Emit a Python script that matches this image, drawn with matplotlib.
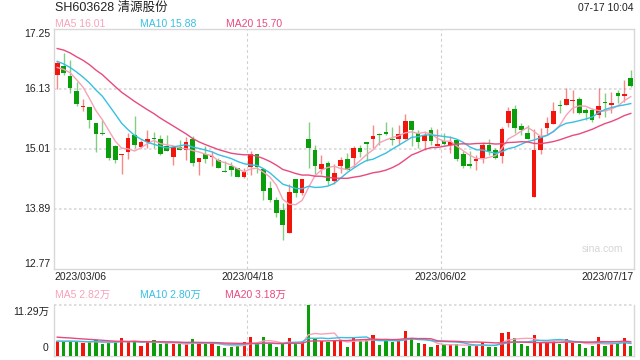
import numpy as np
import pandas as pd
import matplotlib
matplotlib.use('Agg')
import matplotlib.pyplot as plt

plt.rcParams['font.family'] = ['Liberation Sans', 'Noto Sans CJK SC']

# Header texts
stock_title = 'SH603628 清源股份'
stamp = '07-17 10:04'
date_labels = ['2023/03/06', '2023/04/18', '2023/06/02', '2023/07/17']
price_ticks = [12.77, 13.89, 15.01, 16.13, 17.25]

# Daily OHLC, 2023/03/06 .. 2023/07/17
opens = [16.40, 16.55, 16.37, 16.09, 15.79, 15.79, 15.49, 15.30, 15.22, 15.07,
         14.89, 14.95, 15.27, 15.05, 15.14, 15.21, 15.19, 15.06, 14.87, 15.04,
         15.00, 15.20, 14.76, 14.91, 14.86, 14.80, 14.60, 14.69, 14.66, 14.49,
         14.67, 14.91, 14.64, 14.28, 14.05, 13.88, 13.45, 14.45, 14.18, 15.20,
         14.99, 14.63, 14.75, 14.42, 14.70, 14.82, 14.84, 15.03, 15.14, 15.20,
         15.29, 15.33, 15.20, 15.20, 15.19, 15.53, 15.30, 15.15, 15.37, 15.07,
         15.16, 15.09, 15.17, 14.92, 14.73, 14.79, 14.84, 15.09, 14.99, 14.88,
         15.50, 15.75, 15.43, 15.30, 14.11, 15.00, 15.40, 15.48, 15.84, 15.84,
         15.90, 15.94, 15.74, 15.74, 15.65, 15.89, 15.84, 16.05, 16.00, 16.34]
highs = [16.65, 16.80, 16.67, 16.26, 15.94, 15.80, 15.50, 15.56, 15.22, 15.09,
         14.91, 15.31, 15.62, 15.17, 15.37, 15.33, 15.28, 15.28, 15.05, 15.17,
         15.24, 15.26, 14.85, 15.06, 14.97, 14.84, 14.78, 14.76, 14.66, 14.66,
         14.97, 14.92, 14.64, 14.42, 14.11, 14.00, 14.35, 14.45, 14.45, 15.51,
         15.08, 14.89, 14.78, 14.73, 14.87, 14.93, 15.06, 15.09, 15.14, 15.45,
         15.31, 15.51, 15.42, 15.45, 15.67, 15.53, 15.37, 15.34, 15.42, 15.38,
         15.31, 15.25, 15.17, 14.97, 14.98, 14.89, 15.14, 15.19, 15.03, 15.43,
         15.80, 15.83, 15.49, 15.46, 15.38, 15.40, 15.61, 15.89, 15.92, 16.15,
         16.11, 15.98, 15.77, 15.77, 16.14, 16.05, 16.07, 16.12, 16.30, 16.49]
lows = [16.13, 16.40, 16.06, 15.81, 15.71, 15.41, 14.95, 15.28, 14.81, 14.75,
        14.55, 14.83, 15.02, 15.03, 15.02, 15.02, 14.90, 14.98, 14.72, 14.99,
        14.81, 14.69, 14.53, 14.75, 14.69, 14.66, 14.58, 14.51, 14.48, 14.46,
        14.53, 14.57, 14.05, 14.02, 13.75, 13.31, 13.45, 14.11, 14.16, 14.66,
        14.55, 14.54, 14.34, 14.36, 14.56, 14.62, 14.67, 14.87, 14.78, 15.03,
        15.08, 15.27, 15.09, 15.09, 15.19, 15.06, 15.03, 15.00, 15.09, 15.06,
        15.09, 14.94, 14.79, 14.66, 14.66, 14.62, 14.74, 14.90, 14.83, 14.74,
        15.43, 15.30, 15.27, 15.20, 14.11, 14.92, 15.27, 15.48, 15.69, 15.83,
        15.68, 15.67, 15.55, 15.51, 15.58, 15.60, 15.69, 15.86, 15.89, 16.16]
closes = [16.62, 16.42, 16.14, 15.85, 15.80, 15.56, 15.29, 15.29, 14.84, 14.81,
          14.90, 15.22, 15.09, 15.14, 15.20, 15.20, 14.92, 14.98, 15.04, 15.00,
          15.14, 14.75, 14.84, 14.83, 14.87, 14.66, 14.58, 14.61, 14.49, 14.58,
          14.92, 14.67, 14.22, 14.05, 13.82, 13.60, 14.20, 14.18, 14.45, 15.03,
          14.70, 14.73, 14.42, 14.56, 14.81, 14.62, 15.02, 14.96, 15.11, 15.26,
          15.28, 15.29, 15.17, 15.29, 15.53, 15.37, 15.14, 15.27, 15.15, 15.11,
          15.11, 15.14, 14.82, 14.70, 14.70, 14.82, 15.08, 14.97, 14.85, 15.38,
          15.72, 15.40, 15.37, 15.20, 14.99, 15.26, 15.50, 15.71, 15.82, 15.94,
          15.91, 15.69, 15.68, 15.55, 15.81, 15.86, 15.87, 15.99, 16.03, 16.19]
# volume in 万 (10k shares)
volumes = [3.34, 3.12, 3.34, 3.12, 2.75, 2.97, 3.57, 2.53, 2.90, 3.12,
           4.01, 3.12, 3.34, 2.23, 3.12, 3.57, 2.53, 2.75, 2.53, 2.53,
           2.53, 3.79, 2.75, 2.53, 2.75, 2.23, 1.86, 2.08, 2.23, 3.12,
           4.23, 2.75, 4.23, 2.53, 2.01, 2.53, 4.01, 2.53, 2.97, 11.29,
           3.86, 3.34, 3.12, 3.57, 3.34, 2.01, 4.23, 3.34, 3.57, 4.68,
           2.45, 3.34, 3.12, 3.34, 5.57, 3.86, 2.90, 2.67, 2.01, 2.45,
           2.53, 2.67, 2.53, 1.78, 2.23, 2.23, 3.12, 2.01, 2.01, 5.13,
           5.35, 4.01, 2.67, 2.23, 4.68, 3.12, 2.90, 3.34, 2.67, 3.71,
           2.90, 2.67, 1.78, 2.23, 4.23, 2.23, 2.67, 2.67, 4.01, 2.23]

# sessions before the window, only used so the averages start at the left edge
prior_closes = [17.00, 17.20, 17.30, 17.10, 17.20, 17.30, 17.00, 17.10, 17.00, 17.05,
                16.90, 16.80, 16.70, 16.75, 16.65, 16.60, 16.45, 16.50, 16.49]
prior_volumes = [5.2, 4.8, 5.5, 4.6, 5.0, 5.3, 4.7, 5.1, 4.9, 4.9,
                 3.4, 3.1, 3.5, 3.2, 3.3, 3.1, 3.4, 3.2, 3.1]

ma_windows = [5, 10, 20]
ma_colors = ['#f8a2b8', '#38c0e2', '#e84a7c']
price_ma_text = ['16.01', '15.88', '15.70']
vol_ma_text = ['2.82万', '2.80万', '3.18万']

RED = '#f2150c'
GREEN = '#0a9e0a'
GRID = '#d8d8d8'
TXT = '#222222'

o = np.array(opens); h = np.array(highs); l = np.array(lows); c = np.array(closes)
v = np.array(volumes)
n = len(c)
x = np.arange(n)
colors = np.where(c >= o, RED, GREEN)

def moving_avg(prior, series, w):
    s = pd.Series(list(prior) + list(series))
    return s.rolling(w).mean().iloc[len(prior):].values

W, H = 640, 360
def box(x0, y0, x1, y1):
    return [x0 / W, 1 - y1 / H, (x1 - x0) / W, (y1 - y0) / H]

fig = plt.figure(figsize=(6.4, 3.6), dpi=100)
ax = fig.add_axes(box(54, 29, 634, 269))
axv = fig.add_axes(box(54, 304.5, 634, 356))

# --- price panel ---
ax.vlines(x, l, h, colors=colors, lw=1.0, alpha=0.5, zorder=2)
body_lo = np.minimum(o, c)
body_h = np.maximum(np.abs(c - o), 0.019)
ax.bar(x, body_h, 0.72, bottom=body_lo, color=colors, linewidth=0, zorder=3)
for w, col in zip(ma_windows, ma_colors):
    ax.plot(x, moving_avg(prior_closes, closes, w), color=col, lw=1.0, zorder=4)

ax.set_xlim(-0.5, n - 0.5)
ax.set_ylim(price_ticks[0], price_ticks[-1])
for yv in price_ticks[1:-1]:
    ax.axhline(yv, color=GRID, lw=1.2, ls=(0, (1.5, 1.5)), zorder=1)
for k in (1, 2):
    ax.axvline(-0.5 + n * k / 3, color='#cfcfcf', lw=0.8, ls=(0, (2.5, 2.5)), zorder=1)
ax.set_xticks([]); ax.set_yticks([])
for sp in ax.spines.values():
    sp.set_color(GRID); sp.set_linewidth(1.0)

ytr = ax.get_yaxis_transform()
for i, yv in enumerate(price_ticks):
    va = 'bottom' if i == 0 else ('top' if i == len(price_ticks) - 1 else 'center')
    off = 0.006 if i == 0 else (-0.006 if i == len(price_ticks) - 1 else 0)
    ax.text(-0.006, yv + off, f'{yv:.2f}', transform=ytr, ha='right', va=va,
            fontsize=7.5, color=TXT)

xtr = ax.get_xaxis_transform()
date_pos = [-0.5 + n * k / 3 for k in range(4)]
for k, (xp, lab) in enumerate(zip(date_pos, date_labels)):
    ha = 'left' if k == 0 else ('right' if k == 3 else 'center')
    ax.text(xp, -0.034, lab, transform=xtr, ha=ha, va='center', fontsize=7.5, color=TXT)

ax.text(0.945, 0.083, 'sina.com', transform=ax.transAxes, ha='center', va='center',
        fontsize=7.5, color='#d6d6d6')

# --- volume panel ---
axv.bar(x, v, 0.5, color=colors, linewidth=0, zorder=3)
for w, col in zip(ma_windows, ma_colors):
    axv.plot(x, moving_avg(prior_volumes, volumes, w), color=col, lw=1.0, zorder=4)
vmax = v.max()
axv.set_xlim(-0.5, n - 0.5)
axv.set_ylim(0, vmax)
axv.axhline(vmax, color=GRID, lw=1.2, ls=(0, (1.5, 1.5)), clip_on=False, zorder=1)
for k in (1, 2):
    axv.axvline(-0.5 + n * k / 3, color='#cfcfcf', lw=0.8, ls=(0, (2.5, 2.5)), zorder=1)
axv.set_xticks([]); axv.set_yticks([])
axv.spines['top'].set_visible(False)
for s in ('left', 'right', 'bottom'):
    axv.spines[s].set_color(GRID); axv.spines[s].set_linewidth(1.0)
axv.text(-0.009, 0.86, f'{vmax:.2f}万', transform=axv.transAxes, ha='right', va='center',
         fontsize=7.5, color=TXT)
axv.text(-0.009, 0.15, '0', transform=axv.transAxes, ha='right', va='center',
         fontsize=7.5, color=TXT)

# --- header texts ---
fig.text(55 / W, 1 - 8 / H, stock_title, ha='left', va='center', fontsize=9, color=TXT)
fig.text(634 / W, 1 - 8 / H, stamp, ha='right', va='center', fontsize=7.5, color=TXT)
for xp, col, w, t in zip([55, 140.5, 225.5], ma_colors, ma_windows, price_ma_text):
    fig.text(xp / W, 1 - 24 / H, f'MA{w} {t}', ha='left', va='center', fontsize=7.5, color=col)
for xp, col, w, t in zip([55, 140, 225], ma_colors, ma_windows, vol_ma_text):
    fig.text(xp / W, 1 - 295 / H, f'MA{w} {t}', ha='left', va='center', fontsize=7.5, color=col)

fig.savefig('out.png', dpi=100)
